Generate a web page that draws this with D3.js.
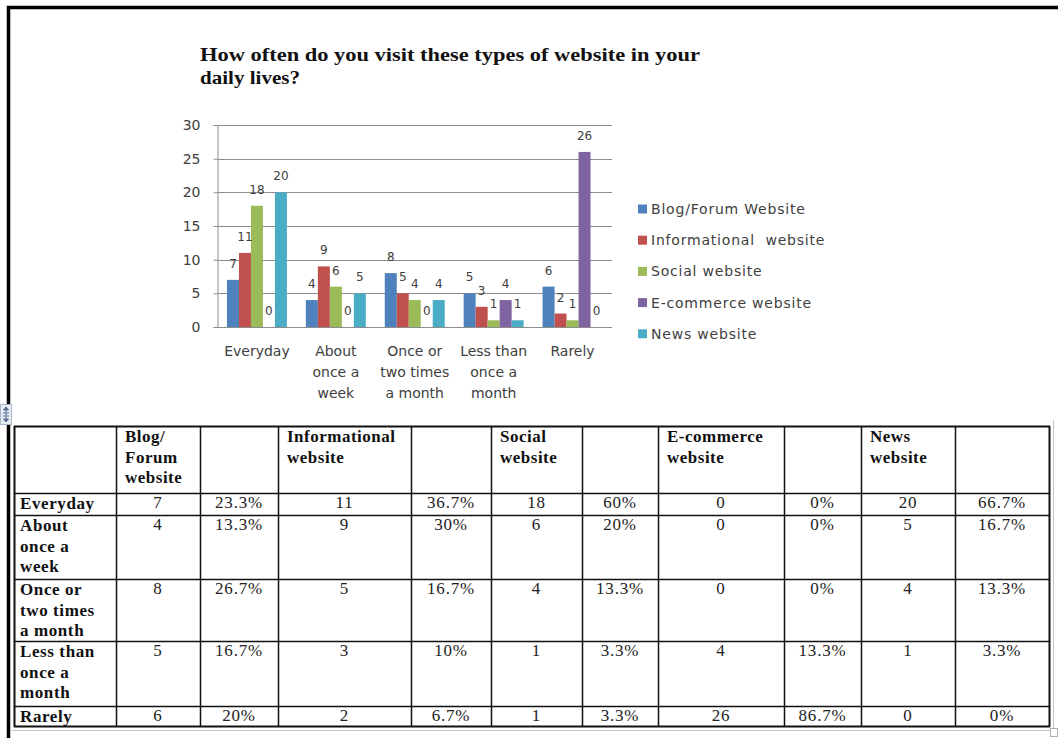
<!DOCTYPE html>
<html>
<head>
<meta charset="utf-8">
<script src="https://cdn.jsdelivr.net/npm/d3@7"></script>
<style>
  html, body { margin: 0; padding: 0; background: #fff; }
  svg { display: block; }
</style>
</head>
<body>
<script>
// ---- Survey answers: visits per website type, by frequency ----
const categories = ["Everyday", "About once a week", "Once or two times a month", "Less than once a month", "Rarely"];
const categoryLines = [["Everyday"], ["About", "once a", "week"], ["Once or", "two times", "a month"], ["Less than", "once a", "month"], ["Rarely"]];
const seriesNames = ["Blog/Forum Website", "Informational  website", "Social website", "E-commerce website", "News website"];
const blogValues = [7, 4, 8, 5, 6];
const infoValues = [11, 9, 5, 3, 2];
const socialValues = [18, 6, 4, 1, 1];
const ecommerceValues = [0, 0, 0, 4, 26];
const newsValues = [20, 5, 4, 1, 0];
const yTicks = [0, 5, 10, 15, 20, 25, 30];

// Percent columns of the summary table
const blogPct = ["23.3%", "13.3%", "26.7%", "16.7%", "20%"];
const infoPct = ["36.7%", "30%", "16.7%", "10%", "6.7%"];
const socialPct = ["60%", "20%", "13.3%", "3.3%", "3.3%"];
const ecommercePct = ["0%", "0%", "0%", "13.3%", "86.7%"];
const newsPct = ["66.7%", "16.7%", "13.3%", "3.3%", "0%"];
const tableHeaders = [["Blog/", "Forum", "website"], ["Informational", "website"], ["Social", "website"], ["E-commerce", "website"], ["News", "website"]];

const titleLines = ["How often do you visit these types of website in your", "daily lives?"];

const colors = ["#4F81BD", "#C0504D", "#9BBB59", "#8064A2", "#4BACC6"];
const seriesValues = [blogValues, infoValues, socialValues, ecommerceValues, newsValues];

const W = 1058, H = 738;
const svg = d3.select("body").append("svg").attr("width", W).attr("height", H);

// Page frame
svg.append("path")
  .attr("d", `M8.5,${H} V7.5 H${W}`)
  .attr("fill", "none").attr("stroke", "#000").attr("stroke-width", 3.5);

// ---- Title ----
const title = svg.append("text")
  .attr("font-family", "'Liberation Serif', 'Times New Roman', serif")
  .attr("font-weight", "bold").attr("font-size", 18).attr("fill", "#111");
title.selectAll("tspan").data(titleLines).join("tspan")
  .attr("x", 200).attr("y", (d, i) => 61 + i * 23)
  .attr("textLength", (d, i) => i === 0 ? 500 : 100)
  .attr("lengthAdjust", "spacingAndGlyphs")
  .text(d => d);

// ---- Chart ----
const plot = { left: 217.5, right: 612, top: 125, bottom: 327 };
const y = d3.scaleLinear().domain([0, 30]).range([plot.bottom, plot.top]);
const x0 = d3.scaleBand().domain(categories).range([plot.left, plot.right]).padding(0);
const groupW = x0.bandwidth() * 0.76;
const x1 = d3.scaleBand().domain(d3.range(seriesNames.length))
  .range([(x0.bandwidth() - groupW) / 2, (x0.bandwidth() + groupW) / 2]).padding(0);

const chart = svg.append("g");
const chartFont = "'DejaVu Sans', Verdana, sans-serif";

// gridlines
chart.append("g").selectAll("line").data(yTicks.filter(t => t > 0)).join("line")
  .attr("x1", plot.left).attr("x2", plot.right)
  .attr("y1", d => Math.round(y(d)) + 0.5).attr("y2", d => Math.round(y(d)) + 0.5)
  .attr("stroke", "#8c8c8c").attr("stroke-width", 1);

// y axis
const yAxis = chart.append("g").attr("transform", `translate(${plot.left},0)`)
  .call(d3.axisLeft(y).tickValues(yTicks).tickSize(4).tickPadding(13).tickFormat(d3.format("d")));
yAxis.select(".domain").attr("stroke", "#8c8c8c");
yAxis.selectAll(".tick line").attr("stroke", "#8c8c8c");
yAxis.selectAll(".tick text").attr("font-family", chartFont).attr("font-size", 14).attr("fill", "#404040");

// bars
const rows = categories.map((c, ci) => seriesValues.map((vals, si) => ({ c, si, v: vals[ci] })));
const groups = chart.append("g").selectAll("g").data(rows).join("g")
  .attr("transform", (d, i) => `translate(${x0(categories[i])},0)`);
groups.selectAll("rect").data(d => d).join("rect")
  .attr("x", d => x1(d.si)).attr("width", x1.bandwidth())
  .attr("y", d => y(d.v)).attr("height", d => y(0) - y(d.v))
  .attr("fill", d => colors[d.si]);
groups.selectAll("text").data(d => d).join("text")
  .attr("x", d => x1(d.si) + x1.bandwidth() / 2)
  .attr("y", d => y(d.v) - 12)
  .attr("text-anchor", "middle")
  .attr("font-family", chartFont).attr("font-size", 12).attr("fill", "#404040")
  .text(d => d.v);

// x axis line
chart.append("line")
  .attr("x1", plot.left).attr("x2", plot.right)
  .attr("y1", y(0) + 0.5).attr("y2", y(0) + 0.5)
  .attr("stroke", "#8c8c8c");

// category labels
const catText = chart.append("g").selectAll("text").data(categories).join("text")
  .attr("text-anchor", "middle")
  .attr("font-family", chartFont).attr("font-size", 14).attr("fill", "#404040");
catText.each(function (c, i) {
  d3.select(this).selectAll("tspan").data(categoryLines[i]).join("tspan")
    .attr("x", x0(c) + x0.bandwidth() / 2)
    .attr("y", (d, k) => 356 + k * 21)
    .text(d => d);
});

// legend
const legend = chart.append("g").selectAll("g").data(seriesNames).join("g")
  .attr("transform", (d, i) => `translate(638, ${209 + i * 31.2})`);
legend.append("rect").attr("x", 0).attr("y", -4.5).attr("width", 9).attr("height", 9)
  .attr("fill", (d, i) => colors[i]);
legend.append("text").attr("x", 13).attr("y", 5)
  .attr("font-family", chartFont).attr("font-size", 14).attr("fill", "#404040")
  .attr("letter-spacing", 0.8)
  .attr("xml:space", "preserve")
  .text(d => d);

// ---- Table ----
const colEdges = [14, 116, 200, 278, 411, 491, 582, 658, 784, 861, 955, 1049];
const rowEdges = [426, 493, 515, 579, 641, 706, 726];
const serif = "'Liberation Serif', 'Times New Roman', serif";
const table = svg.append("g");

// light page edges around the table
table.append("path").attr("d", `M1053.5,420 V730.5 H10`)
  .attr("fill", "none").attr("stroke", "#c8c8c8");
table.append("rect").attr("x", 1050.5).attr("y", 728.5).attr("width", 7).attr("height", 8)
  .attr("fill", "#fff").attr("stroke", "#b0b0b0");

// table move handle
const handle = table.append("g").attr("transform", "translate(0,404)");
handle.append("rect").attr("x", 0.5).attr("y", 0.5).attr("width", 11).attr("height", 20)
  .attr("fill", "#e6ecf4").attr("stroke", "#a9b6c8");
handle.append("path").attr("d", "M6,3 L3.5,6 H8.5 Z M6,18 L3.5,15 H8.5 Z M6,5 V16 M3,9 H9 M3,12 H9")
  .attr("fill", "#5a6f93").attr("stroke", "#5a6f93").attr("stroke-width", 1);

// grid
table.append("g").selectAll("line").data(colEdges).join("line")
  .attr("x1", d => d + 0.5).attr("x2", d => d + 0.5)
  .attr("y1", rowEdges[0]).attr("y2", rowEdges[rowEdges.length - 1] + 1)
  .attr("stroke", "#111").attr("stroke-width", (d, i) => (i === 0 || i === colEdges.length - 1) ? 2 : 1.5);
table.append("g").selectAll("line").data(rowEdges).join("line")
  .attr("x1", colEdges[0]).attr("x2", colEdges[colEdges.length - 1] + 1)
  .attr("y1", d => d + 0.5).attr("y2", d => d + 0.5)
  .attr("stroke", "#111").attr("stroke-width", (d, i) => (i === 0 || i === rowEdges.length - 1) ? 2 : 1.5);

const cellFont = { family: serif, size: 17 };

// header cells
tableHeaders.forEach((lines, i) => {
  const x = colEdges[1 + i * 2] + 9;
  table.append("text").attr("font-family", cellFont.family).attr("font-size", cellFont.size)
    .attr("font-weight", "bold").attr("fill", "#111").attr("letter-spacing", 0.5)
    .selectAll("tspan").data(lines).join("tspan")
    .attr("x", x).attr("y", (d, k) => rowEdges[0] + 16 + k * 20.5)
    .text(d => d);
});

// row labels
categoryLines.forEach((lines, r) => {
  table.append("text").attr("font-family", cellFont.family).attr("font-size", cellFont.size)
    .attr("font-weight", "bold").attr("fill", "#111").attr("letter-spacing", 0.6)
    .selectAll("tspan").data(lines).join("tspan")
    .attr("x", colEdges[0] + 6).attr("y", (d, k) => rowEdges[r + 1] + 16 + k * 20.5)
    .text(d => d);
});

// values and percentages
const pctCols = [blogPct, infoPct, socialPct, ecommercePct, newsPct];
const cells = [];
categories.forEach((c, r) => {
  seriesValues.forEach((vals, s) => {
    cells.push({ r, col: 1 + s * 2, text: String(vals[r]) });
    cells.push({ r, col: 2 + s * 2, text: pctCols[s][r] });
  });
});
table.append("g").selectAll("text").data(cells).join("text")
  .attr("x", d => (colEdges[d.col] + colEdges[d.col + 1]) / 2)
  .attr("y", d => rowEdges[d.r + 1] + 15)
  .attr("text-anchor", "middle")
  .attr("font-family", cellFont.family).attr("font-size", cellFont.size)
  .attr("letter-spacing", 0.8).attr("fill", "#222")
  .text(d => d.text);
</script>
</body>
</html>
